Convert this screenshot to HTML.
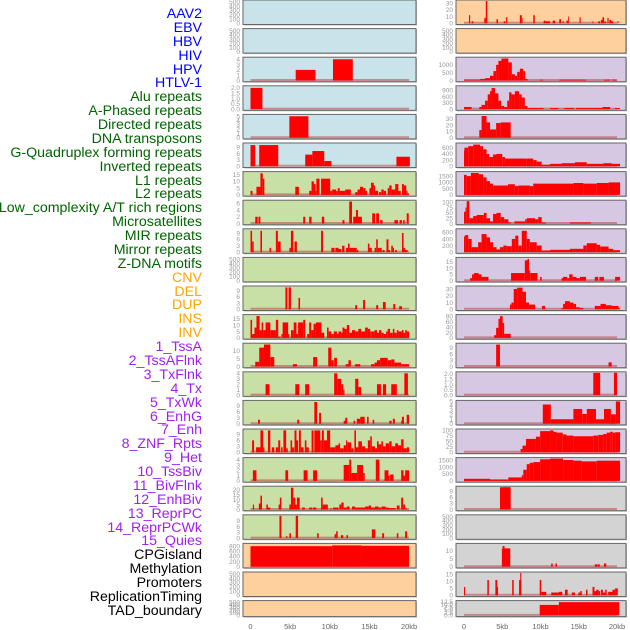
<!DOCTYPE html>
<html><head><meta charset="utf-8">
<style>
html,body{margin:0;padding:0;background:#fff;}
body{width:630px;height:630px;position:relative;overflow:hidden;font-family:"Liberation Sans",sans-serif;}
#labels div{position:absolute;right:428px;font-size:14.2px;line-height:14px;white-space:nowrap;}
svg{position:absolute;left:0;top:0;}
</style></head>
<body>
<div id="labels"></div>
<svg id="chart" width="630" height="630"></svg>
<script>
// ---- track names & colours ----
const trackNames = ["AAV2","EBV","HBV","HIV","HPV","HTLV-1","Alu repeats","A-Phased repeats","Directed repeats","DNA transposons","G-Quadruplex forming repeats","Inverted repeats","L1 repeats","L2 repeats","Low_complexity A/T rich regions","Microsatellites","MIR repeats","Mirror repeats","Z-DNA motifs","CNV","DEL","DUP","INS","INV","1_TssA","2_TssAFlnk","3_TxFlnk","4_Tx","5_TxWk","6_EnhG","7_Enh","8_ZNF_Rpts","9_Het","10_TssBiv","11_BivFlnk","12_EnhBiv","13_ReprPC","14_ReprPCWk","15_Quies","CPGisland","Methylation","Promoters","ReplicationTiming","TAD_boundary"];
const trackGroups = ["v","v","v","v","v","v","r","r","r","r","r","r","r","r","r","r","r","r","r","s","s","s","s","s","c","c","c","c","c","c","c","c","c","c","c","c","c","c","c","o","o","o","o","o"];
const xTickLabels = ["0","5kb","10kb","15kb","20kb"];
const xTickValues = [0,5,10,15,20];

// ---- left column panel data: [startKb, endKb, value] ----
const segL00 = [];
const segL01 = [];
const segL02 = [[5.7,8.2,2],[10.4,12.9,4]];
const segL03 = [[0,1.5,2]];
const segL04 = [[4.9,7.3,5]];
const segL05 = [[0,0.6,10],[1.1,3.5,10],[6.9,7.8,5.5],[7.8,9.3,7.2],[9.3,10.2,2.5],[18.4,20.1,4.5]];
const segL06 = [[0,0.25,3],[0.75,1.25,6],[1.25,1.55,16],[1.55,1.75,12],[5.65,6.1,6],[7.4,7.7,3],[7.7,8.0,10],[8.0,8.2,8],[8.2,8.3,3],[8.3,8.7,12],[8.9,10.05,12],[10.05,10.3,3],[10.3,10.8,4],[10.8,11.0,3],[11.0,11.25,5],[11.25,11.95,3],[11.95,12.1,4],[12.1,12.65,4],[13.2,13.5,2],[13.5,13.8,4],[13.8,14.2,6],[14.2,14.5,5],[14.5,14.7,3],[15.0,15.2,5],[15.2,15.55,9],[15.55,15.7,7],[15.7,16.1,3],[16.2,16.5,2],[16.5,16.8,4],[16.8,17.1,3],[17.3,17.5,5],[17.5,17.8,7],[17.8,18.25,4],[18.25,18.65,8],[18.65,18.95,3],[19.1,19.35,8],[19.35,19.65,7],[19.65,19.8,3],[19.8,20.0,1]];
const segL07 = [[0.6,0.9,2],[1.0,1.25,2],[6.65,6.9,2],[7.4,7.7,2],[9.0,9.3,2],[11.6,11.85,1],[12.45,12.8,6.5],[12.95,14.05,2],[13.3,13.55,4],[15.35,15.7,3],[15.85,16.2,3],[16.35,16.65,1],[18.15,18.6,1],[18.8,19.1,1],[19.25,19.45,1],[19.7,19.95,3]];
const segL08 = [[0,0.2,10],[0.2,0.4,5],[1.25,1.45,10],[2.4,2.6,2],[3.2,3.45,10],[3.45,3.8,5],[4.9,5.1,2],[5.1,5.4,10],[5.55,5.85,5],[8.9,9.15,10],[10.2,10.6,2],[10.7,11.1,2],[11.1,11.45,1.5],[11.55,11.85,3],[12.05,12.3,2],[12.3,12.5,4],[12.5,12.8,2],[12.8,13.4,2],[13.4,13.6,1],[14.8,15.0,4],[15.0,15.3,2],[15.65,15.85,2],[15.85,16.05,6],[16.05,16.25,2],[16.25,16.55,2],[16.65,16.9,1],[17.15,17.4,6],[17.4,17.6,1],[17.75,17.95,3],[17.95,18.1,2],[18.25,18.45,1],[19.1,19.3,9],[19.3,19.5,2],[19.5,19.8,1]];
const segL09 = [];
const segL10 = [[4.4,4.65,10.5],[4.8,5.1,10.5],[6.05,6.25,5.5],[13.2,13.45,2],[14.2,14.45,4.5],[15.85,16.1,2],[16.7,17.05,3.5],[18.0,18.25,2.5],[18.75,19.1,1.5]];
const segL11 = [[0,0.2,14],[0.2,0.5,3],[0.5,0.75,8],[0.75,1.15,17],[1.15,1.4,6],[1.4,1.6,12],[1.6,1.9,6],[1.9,2.2,12],[2.2,2.5,12],[2.5,3.2,6],[3.2,3.5,14],[3.5,3.8,1],[3.9,4.05,3],[4.05,4.75,12],[4.75,4.9,3],[5.1,5.45,6],[5.45,5.8,12],[5.8,6.0,3],[6.0,6.65,12],[6.65,6.9,14],[7.15,7.4,3],[7.4,7.65,12],[7.65,7.95,6],[7.95,8.25,11],[8.25,8.95,12],[8.95,9.3,4],[9.65,9.85,8],[9.85,10.2,5],[10.2,10.5,3],[10.5,10.9,5],[10.9,11.1,3],[11.1,11.45,5],[11.45,11.6,4],[11.6,11.85,8],[11.85,12.15,7],[12.15,12.45,10],[12.45,12.8,4],[12.8,13.2,6],[13.2,13.6,5],[13.6,13.95,7],[13.95,14.45,5],[14.45,14.8,8],[14.8,15.1,7],[15.1,15.3,5],[15.3,15.65,5],[15.65,15.95,6],[15.95,16.2,4],[16.2,16.5,6],[16.5,16.8,4],[16.8,17.1,3],[17.1,17.3,5],[17.3,17.6,7],[17.6,17.95,4],[17.95,18.15,7],[18.15,18.45,4],[18.45,18.65,6],[18.65,19.1,5],[19.1,19.3,6],[19.3,19.5,4],[19.5,19.7,6],[19.7,20.0,5]];
const segL12 = [[0.6,1.1,3],[1.1,1.7,12],[1.7,2.5,14],[2.5,3.0,6],[5.35,5.85,1.5],[7.9,8.4,6],[9.8,10.2,12],[10.2,10.5,4],[10.55,10.9,5.5],[12.0,12.35,1.5],[12.35,12.65,4],[13.2,13.85,1.5],[15.2,15.65,1.5],[15.65,15.95,2.5],[15.95,16.35,4],[16.35,16.9,5.5],[16.9,17.3,5.5],[17.3,17.75,4],[17.75,18.15,4.5],[18.15,19.0,2.5],[19.0,20.0,1.5]];
const segL13 = [[1.9,2.4,2],[5.65,6.15,2],[6.9,7.4,2],[10.55,10.95,4],[10.95,11.45,3],[11.45,11.7,2],[11.7,11.85,1],[13.2,13.6,3],[13.6,13.95,1.5],[15.95,16.45,2],[16.7,17.1,2],[17.75,18.45,2],[19.4,19.85,4]];
const segL14 = [[0.95,1.2,2],[5.9,6.15,2],[8.05,8.4,11],[8.65,8.9,5.5],[11.75,12.05,1.5],[11.95,12.2,3],[13.0,13.2,1.5],[13.4,13.85,2.5],[13.85,14.4,3.5],[14.7,14.9,3.5],[15.4,15.6,2],[17.5,17.8,1.5],[17.95,18.2,2.5],[19.0,19.3,1.5],[19.1,19.35,3.5],[19.7,20.0,4.5]];
const segL15 = [[0.2,0.45,6],[0.7,1.25,2.5],[1.25,1.6,11],[1.6,1.75,2.5],[2.2,2.5,11],[2.7,3.0,2.5],[3.2,3.5,2.5],[3.5,3.75,6],[3.85,4.05,2.5],[4.15,4.5,11],[4.5,4.7,2],[5.05,5.25,6],[5.25,5.5,2.5],[5.55,5.8,11],[5.8,6.0,6],[6.1,6.35,11],[6.35,6.7,2.5],[6.85,7.05,6],[7.05,7.35,2.5],[7.7,7.95,11],[8.05,8.8,11],[8.8,9.0,6],[9.0,9.25,11],[9.25,9.65,6],[9.65,10.05,11],[10.05,10.7,2.5],[10.7,11.1,3.5],[11.1,11.3,4.5],[11.3,11.75,2],[11.75,12.05,3.5],[12.05,12.2,6],[12.2,12.7,5],[12.7,13.0,2],[13.1,13.3,11],[13.3,13.6,2.5],[13.6,14.05,5.5],[14.05,14.45,3],[14.45,14.8,2],[14.8,15.1,6],[15.1,15.3,8],[15.3,15.7,3],[15.7,15.95,2],[15.95,16.15,5.5],[16.15,16.5,4],[16.5,16.7,5.5],[16.7,17.05,3],[17.05,17.5,4.5],[17.5,17.8,5.5],[17.8,18.25,3],[18.25,18.6,4.5],[18.6,19.0,3.5],[19.0,19.3,6.5],[19.3,19.7,2],[19.7,20.0,2.5]];
const segL16 = [[0.3,0.75,2],[4.4,4.75,2],[6.7,7.2,2],[7.9,8.4,2],[11.75,12.45,3],[12.45,12.7,4],[12.7,13.45,1.5],[13.45,14.2,3],[14.2,14.4,1.5],[15.8,16.25,4],[16.9,17.4,2],[17.4,17.55,1],[17.6,18.05,1.2],[19.0,19.3,2],[19.3,19.5,1],[19.5,20.0,2]];
const segL17 = [[0.3,0.45,5],[1.05,1.35,6],[1.25,1.45,14],[2.0,2.2,5],[2.2,2.5,2],[3.55,3.75,5],[3.7,3.9,12],[4.9,5.1,5],[5.1,5.4,22],[5.4,5.65,12],[5.55,5.85,5],[5.85,6.2,12],[6.5,6.85,2],[7.4,7.75,2],[7.85,8.3,2],[8.9,9.1,12],[9.1,9.4,5],[9.4,9.75,5],[10.05,10.25,1],[10.4,10.8,2],[10.8,11.1,2],[11.2,11.45,5],[11.45,11.75,7],[11.75,12.15,2],[12.15,12.5,3],[12.8,13.2,3],[13.2,14.45,2],[14.45,14.9,3],[14.9,15.2,4],[15.2,15.7,2],[15.7,16.15,3],[16.15,16.55,2],[16.55,17.05,3],[17.05,17.4,2],[17.4,18.3,1.5],[18.45,18.8,4],[19.0,19.25,12],[19.25,19.5,5],[19.5,19.75,1]];
const segL18 = [[3.65,3.9,11.5],[4.5,4.65,1],[4.9,5.1,2.5],[5.7,6.0,11.5],[8.4,8.6,2.5],[10.6,10.8,2],[10.8,11.0,3.5],[11.4,11.7,1.5],[12.1,12.3,1.5],[15.3,15.75,4.5],[16.6,16.85,2.5],[18.45,18.65,2.5],[19.5,19.75,3.5]];
const segL19 = [[0,10.3,800],[10.3,14,830],[14,20,815]];
const segL20 = [];
const segL21 = [];

// ---- right column panel data ----
const segR00 = [[0.65,0.8,12],[1.0,1.2,3],[2.65,2.85,8],[2.85,3.05,33],[4.25,4.45,6],[5.2,5.4,3],[5.5,5.65,9],[7.3,7.55,12],[7.55,7.65,8],[9.05,9.25,12],[10.4,11.25,3],[10.45,10.6,4],[11.6,11.9,4],[12.45,12.7,6],[12.9,13.05,3],[13.4,13.65,4],[13.6,13.7,10],[15.1,15.25,9],[16.8,16.9,3],[17.55,17.8,3],[17.9,18.1,5],[18.1,18.3,9],[18.35,18.55,3],[18.75,18.9,8],[19.0,19.25,5],[19.25,19.5,3],[20.05,20.2,3]];
const segR01 = [];
const segR02 = [[0,2.1,50],[2.1,2.75,100],[2.75,3.4,150],[3.4,3.85,300],[3.85,4.2,600],[4.2,4.5,1000],[4.5,4.9,1250],[4.9,5.8,1400],[5.8,6.25,1150],[6.25,6.65,400],[6.65,6.95,300],[6.95,7.3,550],[7.3,7.75,750],[7.75,8.0,600],[8.0,8.3,100],[9.95,10.3,50],[12.45,15.95,50],[18.3,19.1,50],[19.4,19.95,50]];
const segR03 = [[0,1.0,100],[2.0,2.3,100],[2.3,2.75,200],[2.75,3.1,400],[3.1,3.4,700],[3.4,3.6,850],[3.6,4.05,1000],[4.05,4.5,750],[4.5,4.85,400],[4.85,5.25,150],[5.25,5.65,100],[5.65,5.9,400],[5.9,6.2,800],[6.2,6.65,700],[6.65,7.2,850],[7.2,7.55,700],[7.55,7.95,550],[7.95,8.3,150],[8.3,10.4,50],[11.25,12.35,50],[13.1,14.4,50],[14.65,18.1,50],[18.1,19.1,100],[19.75,20.4,50]];
const segR04 = [[2.0,2.3,12],[2.3,2.95,34],[2.95,3.4,24],[3.4,4.2,13],[4.2,4.8,23],[4.8,6.1,24]];
const segR05 = [[0,0.05,500],[0.05,0.55,600],[0.55,1.2,650],[1.2,2.1,700],[2.1,2.5,650],[2.5,2.95,550],[2.95,3.3,400],[3.3,3.8,300],[3.8,4.25,380],[4.25,5.0,400],[5.0,5.35,300],[5.35,8.2,250],[8.2,9.05,250],[9.05,9.5,200],[9.5,10.15,150],[10.15,11.25,50],[11.25,12.75,80],[12.75,14.5,100],[14.5,16.05,130],[16.05,18.2,80],[18.2,19.3,100],[19.3,20.4,80]];
const segR06 = [[0,0.35,1600],[0.35,0.9,1500],[0.9,1.9,1750],[1.9,2.5,1650],[2.5,2.95,1400],[2.95,3.4,1100],[3.4,3.8,900],[3.8,5.75,750],[5.75,6.65,850],[6.65,7.1,700],[7.1,8.6,750],[8.6,9.05,700],[9.05,14.3,900],[14.3,15.6,950],[15.6,17.35,900],[17.35,18.9,950],[18.9,20.4,1000]];
const segR07 = [[0,0.2,55],[0.2,0.35,75],[0.35,0.7,110],[0.7,1.2,25],[1.2,1.65,35],[1.65,2.6,40],[2.6,2.95,50],[2.95,3.4,25],[3.4,3.8,10],[3.8,4.25,45],[4.25,4.8,50],[4.8,5.25,30],[5.25,5.8,20],[5.8,6.15,5],[6.6,8.0,10],[8.0,8.2,20],[8.2,9.3,25],[9.3,9.7,20],[9.7,10.15,30],[10.15,10.7,5],[13.85,16.6,5]];
const segR08 = [[0,0.15,480],[0.15,0.55,520],[0.55,1.0,400],[1.0,1.85,150],[1.85,2.3,300],[2.3,2.95,550],[2.95,3.4,450],[3.4,3.8,300],[3.8,4.25,150],[4.25,4.7,80],[4.7,5.15,150],[5.15,5.6,200],[5.6,6.25,180],[6.25,6.7,400],[6.7,7.1,500],[7.1,7.55,200],[7.55,8.2,650],[8.2,8.6,400],[8.6,9.5,300],[9.5,10.15,200],[10.15,11.25,50],[11.25,13.85,70],[13.85,15.6,100],[15.6,16.05,200],[16.05,17.35,270],[17.35,17.8,220],[17.8,18.9,170],[18.9,19.5,100],[19.5,20.4,60]];
const segR09 = [[0.8,1.05,2],[1.05,1.3,5],[1.3,1.9,6],[1.9,2.3,5],[2.3,3.2,3],[6.15,7.95,6],[7.95,8.3,16],[8.3,8.5,17],[8.5,8.65,8],[8.65,9.6,6],[9.95,10.15,3],[12.75,12.95,2],[12.95,13.5,3],[13.5,13.75,2],[13.75,14.2,5],[14.2,14.7,3],[14.7,15.15,2],[15.15,15.95,3],[17.1,17.55,3],[17.7,18.3,3],[19.75,20.4,3]];
const segR10 = [[6.0,6.2,7],[6.2,6.5,10],[6.5,6.95,30],[6.95,7.65,32],[7.65,8.1,26],[8.1,8.5,10],[8.5,9.3,7],[10.2,10.6,5],[12.75,12.95,2],[12.95,13.2,8],[13.2,13.85,12],[13.85,14.3,10],[14.3,14.65,8],[14.65,15.15,3],[15.15,15.6,2],[17.1,17.85,5],[17.85,18.55,8],[18.55,19.3,6],[19.3,20.2,5],[20.2,20.4,2]];
const segR11 = [[3.95,4.2,10],[4.2,4.5,37],[4.5,4.7,70],[4.7,5.05,80],[5.05,5.25,55],[5.25,6.1,15]];
const segR12 = [[4.2,4.7,10.5],[18.9,19.3,2]];
const segR13 = [[16.9,17.8,2.1],[19.6,20.0,2.1]];
const segR14 = [[10.3,11.35,4.3],[11.35,14.3,1],[14.3,15.45,3.3],[15.45,16.05,2.2],[16.05,17.25,3.3],[17.25,18.3,1],[18.3,19.2,3.3],[19.2,19.85,2.1],[19.85,20.4,5]];
const segR15 = [[7.4,7.65,15],[7.65,8.1,30],[8.1,9.4,60],[9.4,9.95,70],[9.95,11.25,95],[11.25,11.7,98],[11.7,12.1,92],[12.1,12.9,88],[12.9,13.4,80],[13.4,14.3,75],[14.3,16.9,72],[16.9,17.55,75],[17.55,18.2,78],[18.2,18.65,82],[18.65,19.1,88],[19.1,19.45,92],[19.45,19.75,88],[19.75,20.4,90]];
const segR16 = [[0,3.4,150],[3.4,5.8,100],[5.8,7.55,250],[7.55,7.75,400],[7.75,8.2,800],[8.2,8.6,1200],[8.6,9.05,1300],[9.05,9.95,1350],[9.95,11.25,1550],[11.25,12.95,1600],[12.95,14.3,1500],[14.3,15.4,1450],[15.4,17.35,1400],[17.35,20.4,1450]];
const segR17 = [[4.7,6.1,11]];
const segR18 = [];
const segR19 = [[4.95,6.05,11.5],[5.05,5.3,13],[11.4,11.6,2],[11.95,12.15,2],[17.1,17.45,1.5],[17.5,17.75,1.5],[18.3,18.6,2]];
const segR20 = [[0,0.15,6],[3.05,3.25,11],[4.1,4.35,11],[4.2,4.45,6],[6.3,6.5,11],[7.2,7.4,11],[7.35,7.5,16],[9.9,10.1,11],[10.1,10.75,2.5],[11.4,12.4,2],[12.4,12.85,2.5],[13.2,13.55,4],[14.1,14.5,2],[14.95,15.2,2],[15.2,15.4,3],[15.95,16.15,4],[16.8,17.05,6],[17.05,17.35,3],[17.3,17.6,4],[17.6,17.8,3],[17.9,18.15,4],[18.15,18.45,2],[18.45,18.65,4],[18.85,19.4,2.5],[19.4,19.75,4],[19.75,20.1,5]];
const segR21 = [[9.9,12.4,9.5],[12.4,20.3,12]];

// ---- axis ranges & tick labels ----
const yMaxL = [520,520,4.2,2.1,5.2,10.5,16.5,6.6,10.5,520,10.7,17.3,14.2,4.1,11.3,11.2,4.2,22.5,11.5,870,520,520];
const yMaxR = [33,520,1420,1060,35,720,1780,105,680,17.5,33,82,10.7,2.1,5,100,1600,11,520,14,16,12.5];
const T500 = ["0","100","200","300","400","500"];
const ticksL = [T500,T500,["0","1","2","3","4"],["0.0","0.5","1.0","1.5","2.0"],["0","1","2","3","4","5"],["0","3","6","9"],["0","5","10","15"],["0","2","4","6"],["0","3","6","9"],T500,["0","3","6","9"],["0","5","10","15"],["0","5","10"],["0","1","2","3","4"],["0","3","6","9"],["0","3","6","9"],["0","1","2","3","4"],["0","5","10","15","20"],["0","3","6","9"],["0","200","400","600","800"],T500,T500];
const ticksR = [["0","10","20","30"],T500,["0","500","1000"],["0","300","600","900"],["0","10","20","30"],["0","200","400","600"],["0","500","1000","1500"],["0","25","50","75","100"],["0","200","400","600"],["0","5","10","15"],["0","10","20","30"],["0","20","40","60","80"],["0","3","6","9"],["0.0","0.5","1.0","1.5","2.0"],["0","1","2","3","4","5"],["0","25","50","75","100"],["0","500","1000","1500"],["0","3","6","9"],T500,["0","5","10"],["0","5","10","15"],["0.0","2.5","5.0","7.5","10.0","12.5"]];
const bgL = ["b","b","b","b","b","b","g","g","g","g","g","g","g","g","g","g","g","g","g","o","o","o"];
const bgR = ["o","o","p","p","p","p","p","p","p","p","p","p","p","p","p","p","p","y","y","y","y","y"];

const segsL = [segL00,segL01,segL02,segL03,segL04,segL05,segL06,segL07,segL08,segL09,segL10,segL11,segL12,segL13,segL14,segL15,segL16,segL17,segL18,segL19,segL20,segL21];
const segsR = [segR00,segR01,segR02,segR03,segR04,segR05,segR06,segR07,segR08,segR09,segR10,segR11,segR12,segR13,segR14,segR15,segR16,segR17,segR18,segR19,segR20,segR21];

const NS = "http://www.w3.org/2000/svg";
const svg = document.getElementById('chart');
const groupColor = {v:"#0000ff", r:"#006400", s:"#ffa500", c:"#a020f0", o:"#000000"};
const bgColor = {b:"#c9e3ea", g:"#c8e0a6", o:"#fed09e", p:"#d6c7e3", y:"#d3d3d3"};

// labels
const labelBox = document.getElementById('labels');
trackNames.forEach((n, i) => {
  const d = document.createElement('div');
  
  
  d.textContent = n;
  d.style.top = (14 + i * 13.88 - 7) + 'px';
  d.style.color = groupColor[trackGroups[i]];
  labelBox.appendChild(d);
});

function el(tag, attrs) {
  const e = document.createElementNS(NS, tag);
  for (const k in attrs) e.setAttribute(k, attrs[k]);
  return e;
}

const cols = [
  {box0:243, box1:416, x0:250.5, kbPx:7.93, tickX:240, segs:segsL, ymax:yMaxL, ticks:ticksL, bg:bgL, side:'left'},
  {box0:456, box1:626, x0:464, kbPx:7.65, tickX:453, segs:segsR, ymax:yMaxR, ticks:ticksR, bg:bgR, side:'right'}
];

cols.forEach(c => {
  const xScale = kb => c.x0 + kb * c.kbPx;
  for (let i = 0; i < 22; i++) {
    const top = i * 28.6;
    const h = i === 21 ? 16 : 24.5;
    const g = el('g', {});
    
    
    svg.appendChild(g);
    const shadow = el('rect', {x:c.box0+1, y:top+1, width:c.box1-c.box0, height:h, fill:'#bbb'});
    g.appendChild(shadow);
    const bg = el('rect', {x:c.box0, y:top, width:c.box1-c.box0, height:h, fill:bgColor[c.bg[i]], stroke:'#666', 'stroke-width':1});
    
    
    g.appendChild(bg);
    const y0 = top + h - 1.2, y1 = top + 1;
    const yScale = v => y0 - Math.min(v, c.ymax[i]) / c.ymax[i] * (y0 - y1);
    const segs = c.segs[i];
    if (segs.length) {
      const base = el('line', {x1:xScale(0), x2:xScale(20), y1:y0-0.5, y2:y0-0.5, stroke:'rgba(190,70,70,0.55)', 'stroke-width':2});
      
      
      g.appendChild(base);
    }
    segs.forEach(s => {
      const xa = xScale(s[0]), xb = xScale(s[1]);
      const yt = yScale(s[2]);
      const r = el('rect', {x:xa, y:yt, width:Math.max(0.8, xb-xa), height:y0-yt, fill:'#ff0000'});
      
      
      g.appendChild(r);
    });
    c.ticks[i].forEach(t => {
      const tx = el('text', {x:c.tickX, y:yScale(parseFloat(t)) + 2.3, 'text-anchor':'end', 'font-size':6.5, fill:'#999', 'font-family':'Liberation Sans, sans-serif'});
      
      
      tx.textContent = t;
      g.appendChild(tx);
    });
  }
  xTickValues.forEach((v, k) => {
    const tx = el('text', {x:xScale(v), y:629, 'text-anchor':'middle', 'font-size':7.5, fill:'#666', 'font-family':'Liberation Sans, sans-serif'});
    
    
    tx.textContent = xTickLabels[k];
    svg.appendChild(tx);
  });
});
</script>
</body></html>
